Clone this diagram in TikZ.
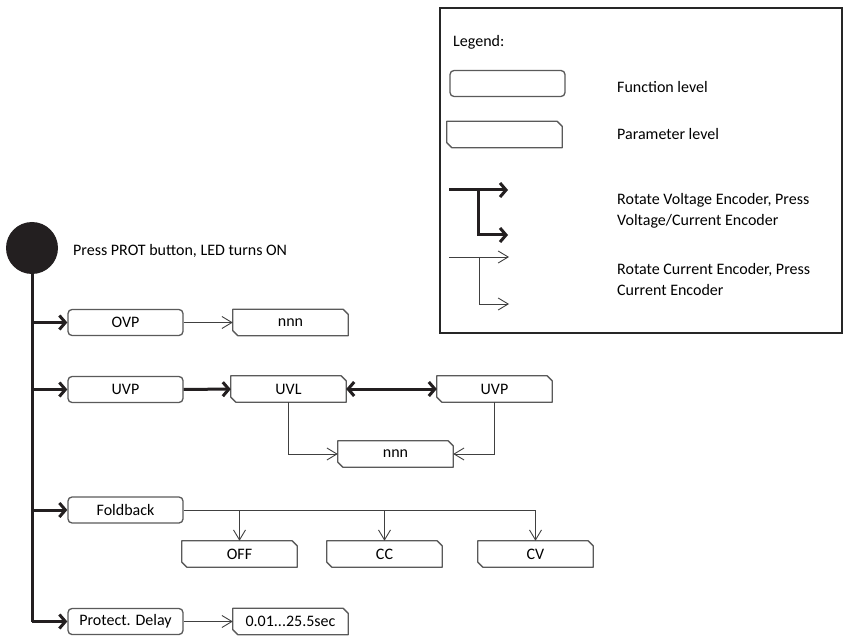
\documentclass[tikz,border=0pt]{standalone}
\usepackage{fontspec}
\setmainfont{Carlito}
\usepackage{tikz}
\usetikzlibrary{arrows.meta}
\definecolor{boxgray}{HTML}{5A5A5A}
\definecolor{inkdark}{HTML}{231F20}
\tikzset{
  funcbox/.style={draw=boxgray, line width=1.3pt, rounded corners=4pt, fill=white, minimum width=115pt, minimum height=26pt, inner sep=0pt},
  parambox/.style={rectangle, fill=white, minimum width=115pt, minimum height=26pt, inner sep=0pt},
  paramline/.style={draw=boxgray, line width=1.3pt, line join=round},
  note/.style={align=left, anchor=west, inner sep=0pt},
  thickflow/.style={-{Straight Barb[length=6pt,width=14pt]}, line width=3pt, inkdark},
  thickline/.style={line width=3pt, inkdark},
  thinflow/.style={-{Straight Barb[length=10pt,width=12pt]}, line width=0.9pt, black!75},
  thinline/.style={line width=0.9pt, black!75}
}
% outline of a parameter-level box: top right and bottom left corners cut
\newcommand\paramframe[1]{%
  \draw[paramline] (#1.north west) -- ([xshift=-5pt]#1.north east) -- ([yshift=-5pt]#1.north east)
    -- (#1.south east) -- ([xshift=5pt]#1.south west) -- ([yshift=5pt]#1.south west) -- cycle;}

\begin{document}
\begin{tikzpicture}[x=1pt, y=-1pt, font=\fontsize{16}{21}\selectfont]
  \useasboundingbox (0,0) rectangle (843,636);

  % legend
  \draw[line width=2pt, black!85] (440,8) rectangle (842,333);
  \node[note] (legtitle) at (453,42) {Legend:};
  \node[funcbox] (legfunc) at (507.5,83.5) {};
  \node[parambox] (legparam) at (504.5,134.5) {};
  \paramframe{legparam}
  \node[note] (legfunctext) at (617,87) {Function level};
  \node[note] (legparamtext) at (617,134) {Parameter level};
  \coordinate (vstart) at (449,190);
  \coordinate (vtop) at (508,190);
  \coordinate (vbot) at (508,235);
  \draw[thickflow] (vstart) -- (vtop);
  \draw[thickflow] (vstart -| 478,0) |- (vbot);
  \node[note] (legvolt) at (617,211) {Rotate Voltage Encoder, Press\\Voltage/Current Encoder};
  \coordinate (cstart) at (449,257);
  \coordinate (ctop) at (509,257);
  \coordinate (cbot) at (509,304);
  \draw[thinflow] (cstart) -- (ctop);
  \draw[thinflow] (cstart -| 479,0) |- (cbot);
  \node[note] (legcurr) at (617,280) {Rotate Current Encoder, Press\\Current Encoder};

  % start and trunk
  \node[circle, fill=inkdark, minimum size=52pt, inner sep=0pt] (start) at (32,248) {};
  \node[note] (prottext) at (73,251) {Press PROT button, LED turns ON};
  \coordinate (trunkend) at (32,622);
  \draw[thickline] (start.south) -- (trunkend);

  % function level
  \node[funcbox] (ovp) at (125.5,322.5) {OVP};
  \node[funcbox] (uvp) at (125.5,389.5) {UVP};
  \node[funcbox] (fold) at (125.5,510) {Foldback};
  \node[funcbox] (delay) at (125.5,621.5) {Protect. Delay};
  \foreach \f in {ovp,uvp,fold,delay}
    {\draw[thickflow] (start |- \f.west) -- (\f.west);}

  % parameter level
  \node[parambox] (ovpval) at (290.5,322.5) {nnn};
  \node[parambox] (uvl) at (288.5,389) {UVL};
  \node[parambox] (uvpval) at (494.5,389) {UVP};
  \node[parambox] (uvnnn) at (395.5,454) {nnn};
  \node[parambox] (foldoff) at (239.5,554) {OFF};
  \node[parambox] (foldcc) at (384.5,554) {CC};
  \node[parambox] (foldcv) at (535.5,554) {CV};
  \node[parambox] (delayval) at (290.5,621.5) {0.01...25.5sec};
  \foreach \p in {ovpval,uvl,uvpval,uvnnn,foldoff,foldcc,foldcv,delayval}
    {\paramframe{\p}}

  \draw[thinflow] (ovp) -- (ovpval);
  \draw[thickflow] (uvp) -- (uvl);
  \draw[thickflow, {Straight Barb[length=6pt,width=14pt]}-{Straight Barb[length=6pt,width=14pt]}] (uvl) -- (uvpval);
  \draw[thinflow] (uvl.south) |- (uvnnn.west);
  \draw[thinflow] (uvpval.south) |- (uvnnn.east);
  \draw[thinflow] (fold.east) -| (foldcv.north);
  \draw[thinflow] (fold.east -| foldoff.north) -- (foldoff.north);
  \draw[thinflow] (fold.east -| foldcc.north) -- (foldcc.north);
  \draw[thinflow] (delay) -- (delayval);
\end{tikzpicture}
\end{document}
